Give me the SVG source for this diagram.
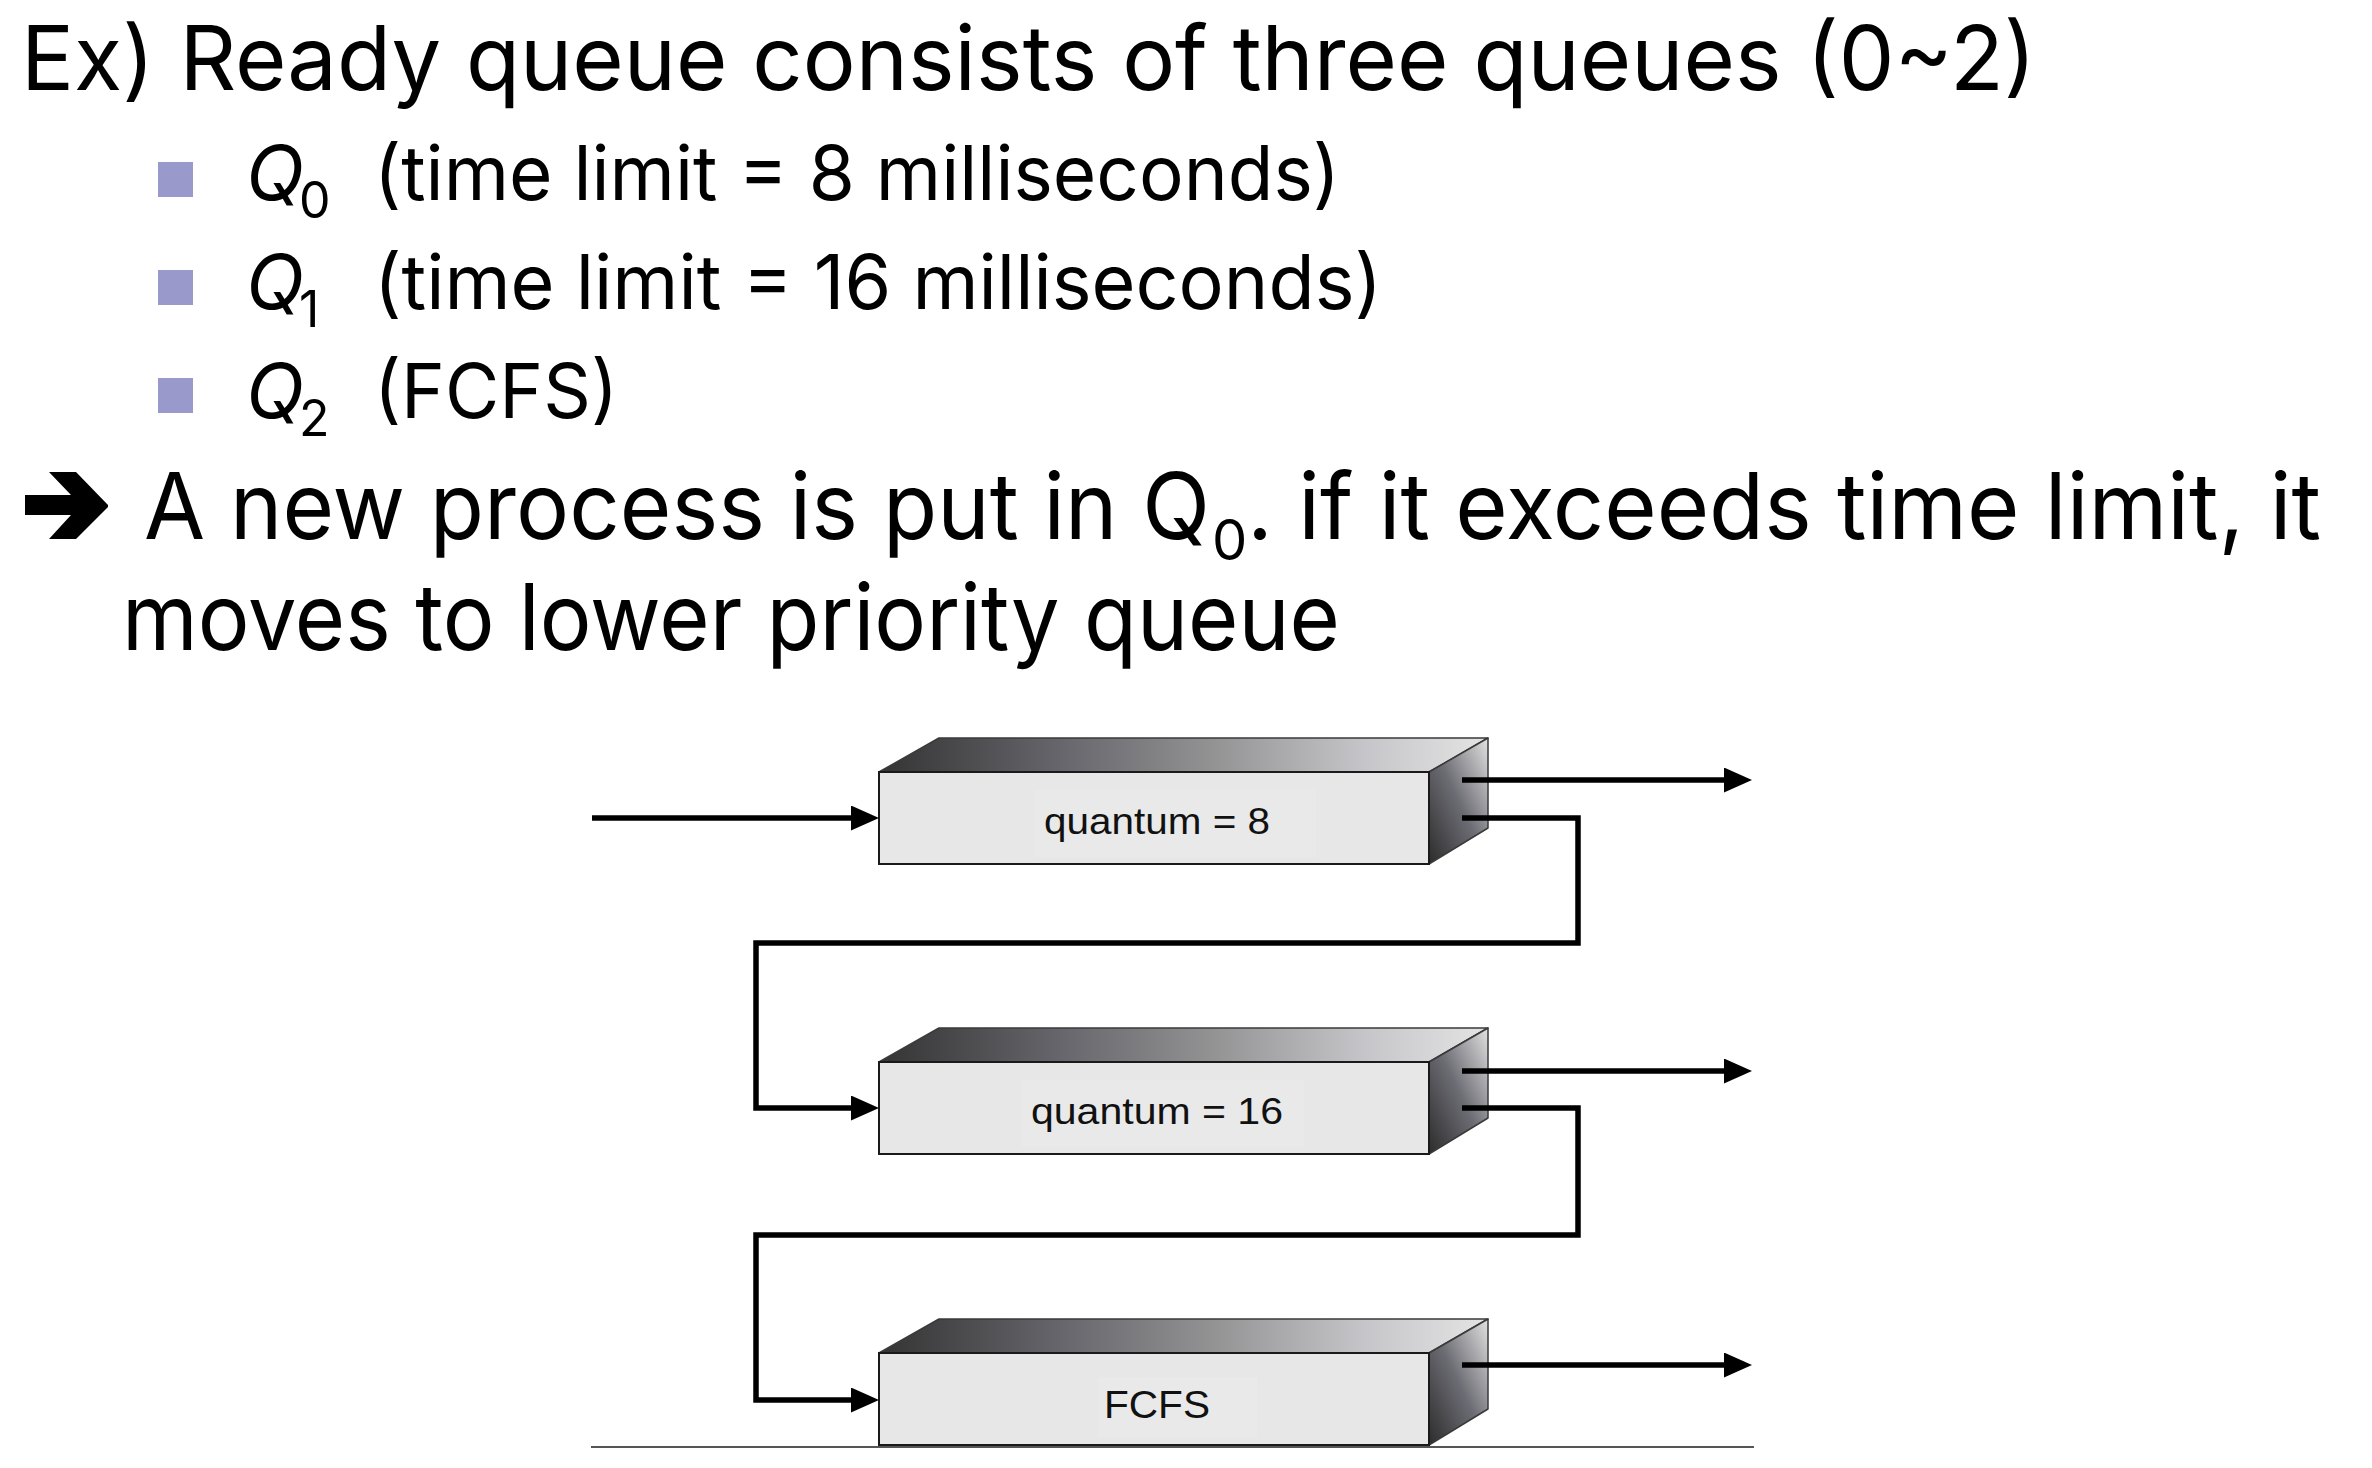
<svg xmlns="http://www.w3.org/2000/svg" xmlns:xlink="http://www.w3.org/1999/xlink" width="2372" height="1468" viewBox="0 0 2372 1468">
  <style>
    .main { font-family: Inter, "Noto Sans", "Liberation Sans", sans-serif; fill: #000; }
    .qi { font-style: italic; }
    .lbl { font-family: "Liberation Sans", Arial, sans-serif; fill: #111; }
    .bullet { fill: #9999cc; }
    .conn { fill: none; stroke: #000; stroke-width: 5.5; stroke-linejoin: miter; }
    .arr { marker-end: url(#ah); }
    .front { fill: #e7e7e7; stroke: #1a1a1a; stroke-width: 2; }
    .top { fill: url(#topGrad); stroke: #3a3a3a; stroke-width: 1.5; stroke-linejoin: round; }
    .side { fill: url(#sideGrad); stroke: #3a3a3a; stroke-width: 1.5; stroke-linejoin: round; }
    .lblbg { fill: #e9e9e9; }
    .ground { stroke: #555; stroke-width: 2; fill: none; }
  </style>
  <defs>
    <linearGradient id="topGrad" x1="0" y1="0" x2="1" y2="0">
      <stop offset="0" stop-color="#343434"/>
      <stop offset="0.3" stop-color="#66666c"/>
      <stop offset="0.55" stop-color="#939394"/>
      <stop offset="0.8" stop-color="#c6c6ca"/>
      <stop offset="1" stop-color="#e4e4e4"/>
    </linearGradient>
    <linearGradient id="sideGrad" x1="1" y1="0" x2="0" y2="1">
      <stop offset="0" stop-color="#e2e2e2"/>
      <stop offset="0.5" stop-color="#6c6c74"/>
      <stop offset="1" stop-color="#2c2c2c"/>
    </linearGradient>
    <marker id="ah" markerUnits="userSpaceOnUse" viewBox="0 0 28 25" refX="8" refY="12.5" markerWidth="28" markerHeight="25" orient="auto">
      <path d="M0,0 L28,12.5 L0,25 Z" fill="#000"/>
    </marker>
    <g id="qbox">
      <polygon class="top" points="0,0 60,-34 609,-34 550,0"/>
      <polygon class="side" points="550,0 609,-34 609,56 550,92"/>
      <rect class="front" x="0" y="0" width="550" height="92"/>
    </g>
  </defs>

  <g id="title">
    <text class="main" x="21" y="90" font-size="89" textLength="2015" lengthAdjust="spacingAndGlyphs">Ex) Ready queue consists of three queues (0~2)</text>
  </g>

  <g id="item-q0">
    <rect class="bullet" x="158" y="162" width="35" height="35"/>
    <text class="main" y="200" font-size="76"><tspan class="qi" x="246">Q</tspan><tspan x="299" y="218" font-size="50">0</tspan><tspan x="374" y="200" textLength="966" lengthAdjust="spacingAndGlyphs">(time limit = 8 milliseconds)</tspan></text>
  </g>
  <g id="item-q1">
    <rect class="bullet" x="158" y="270" width="35" height="35"/>
    <text class="main" y="309" font-size="76"><tspan class="qi" x="246">Q</tspan><tspan x="299" y="327" font-size="50">1</tspan><tspan x="374" y="309" textLength="1008" lengthAdjust="spacingAndGlyphs">(time limit = 16 milliseconds)</tspan></text>
  </g>
  <g id="item-q2">
    <rect class="bullet" x="158" y="378" width="35" height="35"/>
    <text class="main" y="418" font-size="76"><tspan class="qi" x="246">Q</tspan><tspan x="299" y="436" font-size="50">2</tspan><tspan x="374" y="418" textLength="244" lengthAdjust="spacingAndGlyphs">(FCFS)</tspan></text>
  </g>

  <g id="note">
    <polygon fill="#000" points="49,472 76,472 108,505 108,507 76,539 49,539 71,515 25,515 25,495 71,495"/>
    <text class="main" y="539" font-size="92"><tspan x="144" textLength="1066" lengthAdjust="spacingAndGlyphs">A new process is put in Q</tspan><tspan x="1212" y="560" font-size="56">0</tspan><tspan x="1247" y="539" textLength="1074" lengthAdjust="spacingAndGlyphs">. if it exceeds time limit, it</tspan></text>
    <text class="main" x="122" y="650" font-size="92" textLength="1218" lengthAdjust="spacingAndGlyphs">moves to lower priority queue</text>
  </g>

  <g id="queue0">
    <use xlink:href="#qbox" href="#qbox" x="879" y="772"/>
    <rect class="lblbg" x="1034" y="790" width="282" height="67"/>
    <text class="lbl" x="1044" y="834" font-size="36" textLength="226" lengthAdjust="spacingAndGlyphs">quantum = 8</text>
  </g>
  <g id="queue1">
    <use xlink:href="#qbox" href="#qbox" x="879" y="1062"/>
    <rect class="lblbg" x="1022" y="1080" width="282" height="67"/>
    <text class="lbl" x="1031" y="1124" font-size="36" textLength="252" lengthAdjust="spacingAndGlyphs">quantum = 16</text>
  </g>
  <g id="queue2">
    <use xlink:href="#qbox" href="#qbox" x="879" y="1353"/>
    <rect class="lblbg" x="1098" y="1377" width="159" height="60"/>
    <text class="lbl" x="1104" y="1418" font-size="39" textLength="106" lengthAdjust="spacingAndGlyphs">FCFS</text>
  </g>

  <g id="connectors">
    <path class="conn arr" d="M592,818 H859"/>
    <path class="conn arr" d="M1462,780 H1732"/>
    <path class="conn arr" d="M1462,818 H1578 V943 H756 V1108 H859"/>
    <path class="conn arr" d="M1462,1071 H1732"/>
    <path class="conn arr" d="M1462,1108 H1578 V1235 H756 V1400 H859"/>
    <path class="conn arr" d="M1462,1365 H1732"/>
  </g>

  <g id="baseline">
    <path class="ground" d="M591,1447 H1754"/>
  </g>
</svg>
